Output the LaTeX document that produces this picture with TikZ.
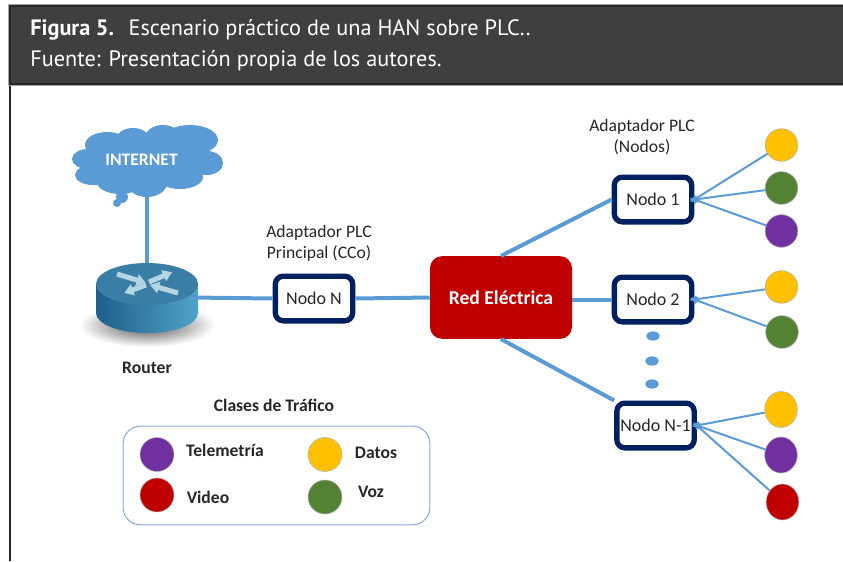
\documentclass[tikz,border=0pt]{standalone}
\usepackage{fontspec}
\setmainfont{Carlito}
\newfontfamily\headfont{PT Sans}
\usetikzlibrary{arrows.meta}
\usetikzlibrary{shapes.geometric}
\definecolor{headgray}{HTML}{3F3F3F}
\definecolor{edgegray}{HTML}{262626}
\definecolor{linkblue}{HTML}{5B9BD5}
\definecolor{navy}{HTML}{002060}
\definecolor{redbox}{HTML}{C00000}
\definecolor{amber}{HTML}{FFC000}
\definecolor{leaf}{HTML}{548235}
\definecolor{violet}{HTML}{7030A0}
\definecolor{legendline}{HTML}{8FAADC}
\definecolor{rtrdark}{HTML}{1F5F8B}
\definecolor{rtrlight}{HTML}{4FA3C7}
\definecolor{rtrtop}{HTML}{3A7EA6}
\definecolor{rtrarrow}{HTML}{B4D6E4}
\tikzset{box/.style = {draw = navy, fill = white, line width = 4pt, rounded corners = 6pt,
                       minimum width = 58pt, minimum height = 33.5pt, inner sep = 0,
                       text = black!85, font = \fontsize{13.5}{15}\selectfont}}
\tikzset{circ/.style = {circle, draw = gray!60, line width = 0.4pt, inner sep = 0, minimum size = 24.5pt}}
\tikzset{oval/.style = {ellipse, draw = gray!60, line width = 0.4pt, inner sep = 0, minimum width = 24.5pt, minimum height = 27pt}}
\tikzset{thick link/.style = {draw = linkblue, line width = 3pt}}
\tikzset{thin link/.style = {draw = linkblue, line width = 1.5pt, shorten >= -4pt, -{Latex[length = 6pt, width = 6pt]}}}
\tikzset{pt/.style = {ellipse, fill = linkblue, inner sep = 0, minimum width = 10pt, minimum height = 7pt}}
\tikzset{lbl/.style = {text = black!85, align = center, font = \fontsize{13.2}{15.7}\selectfont}}
\tikzset{blbl/.style = {text = black!85, font = \fontsize{13.2}{15}\selectfont\bfseries}}
\tikzset{head/.style = {anchor = base west, text = white, inner sep = 0, font = \headfont\fontsize{16.7}{18}\selectfont}}

\begin{document}
\begin{tikzpicture}[x = 0.75pt, y = -0.75pt]
      \useasboundingbox (0, 0) rectangle (843, 561);

      % frame and caption
      \draw [edgegray, line width = 1.5pt] (9.5, 85) -- (9.5, 561);
      \fill [gray!70] (8, 4) rectangle (843, 86);
      \fill [edgegray] (9, 5) rectangle (843, 85);
      \fill [headgray] (11, 7) rectangle (843, 83);
      \node [head] (title) at (30, 35) {\textbf{Figura 5.}\hspace{5pt} Escenario práctico de una HAN sobre PLC..};
      \node [head] (source) at (30, 66) {Fuente: Presentación propia de los autores.};

      % internet
      \foreach \cx/\cy/\rx/\ry in {107/145/22/13, 133/140/17/12, 163/138/18/13, 190/140/28/15,
                                   88/159/16/10, 93/175/18/10, 120/182/23/12, 147/183/20/14,
                                   180/177/23/12, 207/163/16/12, 147/160/65/26, 122/197/6/6, 117/203/4/4}
        \fill [linkblue] (\cx, \cy) ellipse [x radius = \rx, y radius = \ry];
      \node [text = white, font = \fontsize{13.2}{15}\selectfont\bfseries] (inet) at (141.5, 159.5) {INTERNET};
      \coordinate (inetfoot) at (147, 195);
      \coordinate (rtrfoot) at (147, 270);
      \coordinate (rtrside) at (190, 297.5);

      \draw [thick link] (inetfoot) -- (rtrfoot);

      % router
      \shade [inner color = black!70, outer color = white] (147, 325) ellipse [x radius = 68, y radius = 22];
      \shade [left color = rtrdark, right color = rtrlight] (96, 285) -- (96, 313)
        arc [start angle = 180, end angle = 0, x radius = 51, y radius = 20] -- (198, 285) -- cycle;
      \fill [rtrtop] (147, 284) ellipse [x radius = 51, y radius = 21];
      \foreach \ox/\oy/\ang/\len in {117/274/-17/30, 149/282/23/25, 146/285/200/23, 178/293/164/29}
        \fill [rtrarrow, shift = {(\ox, \oy)}, rotate = \ang] (0, -2.5) -- (\len - 9, -2.5) -- (\len - 9, -6)
          -- (\len, 0) -- (\len - 9, 6) -- (\len - 9, 2.5) -- (0, 2.5) -- cycle;

      \node [blbl] (router) at (147, 368) {Router};

      % adapters
      \node [box] (nn) at (314, 298.5) {Nodo N};
      \node [box] (n1) at (653, 199.5) {Nodo 1};
      \node [box] (n2) at (653, 299.5) {Nodo 2};
      \node [box] (nk) at (655.5, 425.5) {Nodo N-1};
      \node [fill = redbox, rounded corners = 9pt, minimum width = 106.5pt, minimum height = 62pt,
             text = white, font = \fontsize{14.7}{16}\selectfont\bfseries] (red) at (501, 297.5) {Red Eléctrica};

      \node [lbl] (main) at (319, 243.5) {Adaptador PLC\\Principal (CCo)};
      \node [lbl] (plc) at (642, 137) {Adaptador PLC\\(Nodos)};

      \draw [thick link] (rtrside) -- (nn.west);
      \draw [thick link] (nn.east) -- (red.west);
      \draw [thick link] (red.north) -- (n1.west);
      \draw [thick link] (red.east |- n2.west) -- (n2.west);
      \draw [thick link] (red.south) -- (nk.north west);

      \node [pt] (d1) at (653, 336) {};
      \node [pt] (d2) at (652, 361) {};
      \node [pt] (d3) at (652, 384) {};

      % devices
      \node [circ, fill = amber] (a1) at (781.5, 145) {};
      \node [circ, fill = leaf] (a2) at (781.5, 188) {};
      \node [circ, fill = violet] (a3) at (781.5, 231) {};
      \node [circ, fill = amber] (b1) at (781.5, 287) {};
      \node [circ, fill = leaf] (b2) at (782, 332) {};
      \node [oval, fill = amber] (c1) at (781, 409.5) {};
      \node [oval, fill = violet] (c2) at (781, 455) {};
      \node [oval, fill = redbox] (c3) at (782.5, 502) {};

      \foreach \from in {a1, a2, a3} \draw [thin link] (\from) -- (n1.east);
      \foreach \from in {b1, b2} \draw [thin link] (\from) -- (n2.east);
      \foreach \from in {c1, c2, c3} \draw [thin link] (\from) -- (nk.east);

      % legend
      \node [blbl] (classes) at (274, 405) {Clases de Tráfico};
      \node [draw = legendline, line width = 0.8pt, rounded corners = 13pt, minimum width = 230pt,
             minimum height = 74pt] (legend) at (276.5, 475.5) {};
      \node [circ, minimum size = 25.5pt, fill = violet] (lt) at (157, 454.5) {};
      \node [circ, minimum size = 25.5pt, fill = redbox] (lv) at (157, 495) {};
      \node [circ, minimum size = 25.5pt, fill = amber] (ld) at (325, 454.5) {};
      \node [circ, minimum size = 25.5pt, fill = leaf] (lz) at (325, 497) {};
      \node [blbl] (tt) at (225, 450.5) {Telemetría};
      \node [blbl] (tv) at (208, 497) {Video};
      \node [blbl] (td) at (376, 452.5) {Datos};
      \node [blbl] (tz) at (371, 492) {Voz};
    \end{tikzpicture}
\end{document}
